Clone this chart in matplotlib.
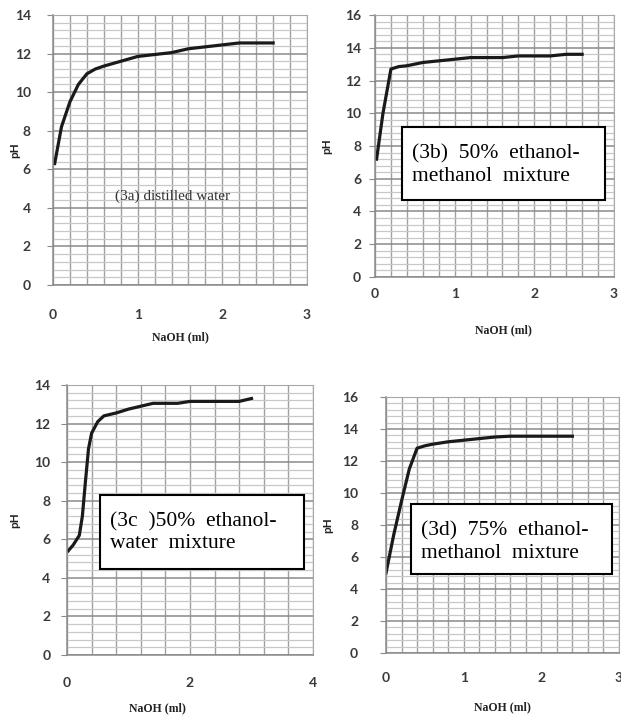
import matplotlib
matplotlib.use("Agg")
import matplotlib.pyplot as plt
from matplotlib.patches import Rectangle
import numpy as np

W, H = 621, 717

# (3a) distilled water
naoh_a = [0.02, 0.1, 0.2, 0.3, 0.4, 0.5, 0.6, 0.8, 1.0, 1.2, 1.4, 1.6, 1.8, 2.0, 2.2, 2.4, 2.6]
ph_a = [6.3, 8.2, 9.5, 10.4, 10.95, 11.2, 11.35, 11.6, 11.85, 11.95, 12.05, 12.25, 12.35, 12.45, 12.55, 12.55, 12.55]

# (3b) 50% ethanol-methanol
naoh_b = [0.02, 0.1, 0.2, 0.3, 0.4, 0.6, 0.8, 1.0, 1.2, 1.4, 1.6, 1.8, 2.0, 2.2, 2.4, 2.6]
ph_b = [7.2, 10.0, 12.7, 12.85, 12.9, 13.1, 13.2, 13.3, 13.4, 13.4, 13.4, 13.5, 13.5, 13.5, 13.6, 13.6]

# (3c) 50% ethanol-water
naoh_c = [0.02, 0.1, 0.2, 0.25, 0.3, 0.35, 0.4, 0.5, 0.6, 0.8, 1.0, 1.2, 1.4, 1.6, 1.8, 2.0, 2.4, 2.8, 3.0]
ph_c = [5.4, 5.7, 6.2, 7.2, 9.0, 10.7, 11.5, 12.1, 12.4, 12.55, 12.75, 12.9, 13.05, 13.05, 13.05, 13.15, 13.15, 13.15, 13.3]

# (3d) 75% ethanol-methanol
naoh_d = [0.0, 0.1, 0.2, 0.3, 0.4, 0.5, 0.6, 0.8, 1.0, 1.2, 1.4, 1.6, 1.8, 2.0, 2.2, 2.4]
ph_d = [5.0, 7.4, 9.5, 11.5, 12.8, 12.95, 13.05, 13.2, 13.3, 13.4, 13.5, 13.55, 13.55, 13.55, 13.55, 13.55]


def fx(px):
    return px / W


def fy(py):
    return 1 - py / H


fig = plt.figure(figsize=(W / 100, H / 100), dpi=100)

panels = [
    # left, right, top, bottom (px), xmax, xstep, ymax, data, ytick pad, xtick pad, ylabel x, xlabel x, xlabel y
    (53, 307, 15, 285, 3, 0.2, 14, naoh_a, ph_a, 12, 17, 15, 180, 337),
    (375, 614, 15, 277, 3, 0.2, 16, naoh_b, ph_b, 6, 8, 327, 503, 330),
    (67, 313, 385, 655, 4, 0.4, 14, naoh_c, ph_c, 8, 16, 15, 157, 708),
    (386, 619, 397, 653, 3, 0.2, 16, naoh_d, ph_d, 16, 14, 328, 502, 707),
]

axes = []
for (l, r, t, b, xmax, xstep, ymax, xs, ys, ypad, xpad, ylx, xlx, xly) in panels:
    ax = fig.add_axes([fx(l), fy(b), (r - l) / W, (b - t) / H])
    ax.set_xlim(0, xmax)
    ax.set_ylim(0, ymax)
    ax.set_xticks(np.arange(0, xmax + 0.01, 1 if xmax == 3 else 2))
    ax.set_xticks(np.arange(0, xmax + 0.01, xstep), minor=True)
    ax.set_yticks(np.arange(0, ymax + 0.01, 2))
    ax.set_yticks(np.arange(0, ymax + 0.01, 0.4), minor=True)
    ax.grid(True, which="minor", axis="y", color="#c8c8c8", lw=0.9)
    ax.grid(True, which="major", axis="y", color="#8a8a8a", lw=1.1)
    ax.grid(True, which="both", axis="x", color="#a0a0a0", lw=1.0)
    ax.set_axisbelow(True)
    for s in ["top", "right"]:
        ax.spines[s].set_color("#a8a8a8")
    for s in ["left", "bottom"]:
        ax.spines[s].set_color("#8a8a8a")
        ax.spines[s].set_linewidth(1.1)
    ax.tick_params(axis="y", which="major", length=4, color="#8a8a8a", pad=ypad,
                   labelsize=10, labelcolor="#3a3a3a")
    ax.tick_params(axis="x", which="major", length=0, pad=xpad,
                   labelsize=10, labelcolor="#3a3a3a")
    ax.tick_params(which="minor", length=0)
    for lab in ax.get_xticklabels() + ax.get_yticklabels():
        lab.set_fontweight("bold")
        lab.set_family("Lato")
    ax.plot(xs, ys, color="#1a1a1a", lw=2.3, solid_joinstyle="round")
    fig.text(fx(ylx), fy((t + b) / 2), "pH", rotation=90, ha="center", va="center",
             fontsize=8.5, fontweight="bold", family="Lato", color="#222222")
    fig.text(fx(xlx), fy(xly), "NaOH (ml)", ha="center", va="center",
             fontsize=8.5, fontweight="bold", family="Liberation Serif", color="#222222")
    axes.append(ax)

ax_a, ax_b, ax_c, ax_d = axes

ax_a.text(0.47, 0.33, "(3a) distilled water", transform=ax_a.transAxes,
          ha="center", va="center", fontsize=11, family="Liberation Serif",
          color="#333333")


def label_box(x0, y0, x1, y1, line1, line2, f1, f2):
    fig.patches.append(Rectangle((fx(x0), fy(y1)), (x1 - x0) / W, (y1 - y0) / H,
                                 transform=fig.transFigure, facecolor="white",
                                 edgecolor="black", lw=1.5, zorder=5))
    cx = fx(x0 + 10)
    fig.text(cx, fy(y0 + (y1 - y0) * f1), line1, ha="left", va="center",
             fontsize=15.5, family="Liberation Serif", zorder=6)
    fig.text(cx, fy(y0 + (y1 - y0) * f2), line2, ha="left", va="center",
             fontsize=15.5, family="Liberation Serif", zorder=6)


label_box(402, 127, 605, 200, "(3b)  50%  ethanol-", "methanol  mixture", 0.37, 0.68)
label_box(100, 495, 304, 569, "(3c  )50%  ethanol-", "water  mixture", 0.36, 0.65)
label_box(411, 504, 612, 574, "(3d)  75%  ethanol-", "methanol  mixture", 0.39, 0.70)

fig.savefig("out.png", dpi=100)
